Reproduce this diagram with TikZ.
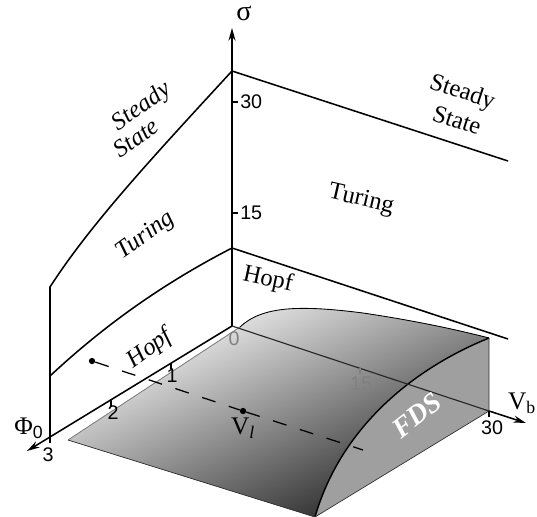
\documentclass[tikz,border=0pt]{standalone}
\usepackage{fontspec}
\setmainfont{Liberation Serif}
\newfontfamily\numfont{Liberation Sans}
\usetikzlibrary{arrows.meta}

\begin{document}
\begin{tikzpicture}[x=0.025cm, y=-0.025cm,
  plane/.style={line width=1.1pt},
  axis/.style={line width=1.1pt, -{Stealth[length=9pt, width=5pt]}},
  tick/.style={line width=0.8pt},
  region/.style={font=\fontsize{17.5}{19}\selectfont, inner sep=0pt},
  iregion/.style={font=\itshape\fontsize{17.5}{19}\selectfont, inner sep=0pt},
  num/.style={font=\numfont\fontsize{14}{16}\selectfont, inner sep=0pt},
  dot/.style={circle, fill, inner sep=0pt, minimum size=4.5pt}]
  \useasboundingbox (0,0) rectangle (537,517);

  % axes and plane corners
  \coordinate (O) at (232,326);
  \coordinate (Stip) at (232,28);
  \coordinate (Top) at (232,71);
  \coordinate (Hb) at (232,248);
  \coordinate (F1) at (171,363);
  \coordinate (F2) at (111,400);
  \coordinate (F3) at (50,437);
  \coordinate (Ftip) at (27,451);
  \coordinate (V15) at (360,368);
  \coordinate (V30) at (489,411);
  \coordinate (Vtip) at (526,423);
  \coordinate (TopR) at (508,161);
  \coordinate (HbR) at (508,339);
  \coordinate (SsL) at (50,287);
  \coordinate (HbL) at (50,376);

  % surface corners
  \coordinate (SA) at (68,440);
  \coordinate (SE) at (240,327);
  \coordinate (SC) at (489,338);
  \coordinate (SD) at (315,517);

  % back planes
  \draw[plane] (F3) -- (SsL) .. controls (90,225) and (150,160) .. (Top);
  \draw[plane] (HbL) .. controls (110,320) and (170,280) .. (Hb);
  \draw[plane] (Top) -- (TopR);
  \draw[plane] (Hb) -- (HbR);
  \draw[axis] (O) -- (Stip);
  \draw[tick] (232,102) -- (238,102);
  \draw[tick] (232,213) -- (238,213);

  % FDS surface
  \fill[shading=axis, top color=white, bottom color=gray!25!black, shading angle=25]
    (SA) -- (SE) .. controls (262,306) and (300,305) .. (363,313)
    .. controls (410,320) and (450,328) .. (SC)
    .. controls (410,370) and (340,430) .. (SD) -- cycle;
  \fill[gray!75] (SC) -- (V30) -- (SD) .. controls (340,430) and (410,370) .. (SC);
  \draw[gray, line width=0.6pt] (SA) -- (SE);
  \draw[line width=0.6pt] (SE) .. controls (262,306) and (300,305) .. (363,313)
    .. controls (410,320) and (450,328) .. (SC);
  \draw[line width=1pt] (SC) .. controls (410,370) and (340,430) .. (SD);
  \draw[gray!40!black, line width=0.5pt] (SA) -- (SD) -- (V30) -- (SC);

  % axes in the floor
  \draw[axis] (O) -- (Ftip);
  \draw[gray!30!black, line width=0.8pt] (O) -- (V30);
  \draw[axis] (V30) -- (Vtip);
  \foreach \p in {F1,F2,F3}
    \draw[tick] (\p) -- ++(0,6);
  \draw[tick, gray] (V15) -- ++(0,6);
  \draw[tick] (V30) -- ++(0,6);

  % path through V_l
  \node[dot] (D1) at (92,361) {};
  \node[dot] (Vl) at (243,411) {};
  \coordinate (Dend) at (363,450);
  \draw[line width=0.9pt, dash pattern=on 10pt off 10pt] (D1) -- (Vl) -- (Dend);

  % labels
  \node[font=\fontsize{20}{22}\selectfont, inner sep=0pt] (sig) at (244,13) {σ};
  \node[font=\fontsize{18}{20}\selectfont, inner sep=0pt] (phi) at (29,428) {Φ\textsubscript{\numfont 0}};
  \node[font=\fontsize{18}{20}\selectfont, inner sep=0pt] (vb) at (522,403) {V\textsubscript{b}};
  \node[font=\fontsize{18}{20}\selectfont, inner sep=0pt] (vl) at (243,428) {V\textsubscript{\itshape l}};
  \node[num, anchor=west] (s30) at (240,102) {30};
  \node[num, anchor=west] (s15) at (240,213) {15};
  \node[num] (f1) at (172,376) {1};
  \node[num] (f2) at (113,413) {2};
  \node[num] (f3) at (48,455) {3};
  \node[num, gray] (v0) at (234,339) {0};
  \node[num, gray] (v15) at (361,384) {15};
  \node[num] (v30) at (492,428) {30};

  \node[iregion, rotate=36] (ssl1) at (142,107) {Steady};
  \node[iregion, rotate=36] (ssl2) at (136,138) {State};
  \node[region, rotate=-18] (ssr1) at (462,93) {Steady};
  \node[region, rotate=-18] (ssr2) at (457,120) {State};
  \node[iregion, rotate=36] (tul) at (146,236) {Turing};
  \node[region, rotate=-13] (tur) at (361,200) {Turing};
  \node[region, rotate=-12] (hor) at (268,280) {Hopf};
  \node[iregion, rotate=36] (hol) at (150,349) {Hopf};
  \node[white, inner sep=0pt, font=\bfseries\itshape\fontsize{20}{22}\selectfont, rotate=38] (fds) at (417,415) {FDS};
\end{tikzpicture}
\end{document}
